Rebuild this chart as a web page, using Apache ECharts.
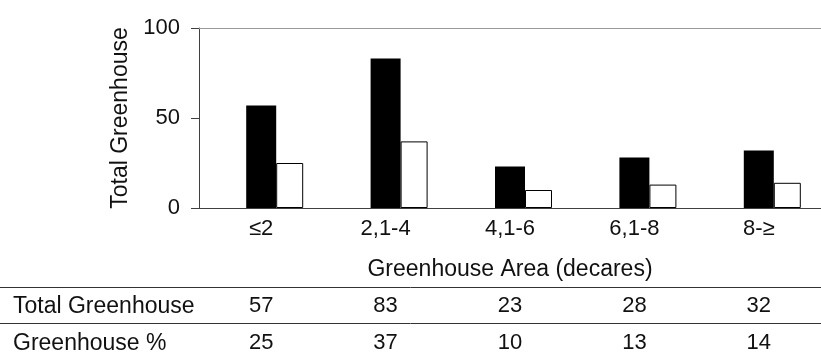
<!DOCTYPE html>
<html>
<head>
<meta charset="utf-8">
<script src="https://cdn.jsdelivr.net/npm/echarts@6/dist/echarts.min.js"></script>
<style>
html,body{margin:0;padding:0;background:#fff;}
#c{width:821px;height:354px;}
</style>
</head>
<body>
<div id="c"></div>
<script>
var categories = ['\u22642', '2,1-4', '4,1-6', '6,1-8', '8-\u2265'];
var totalGreenhouse = [57, 83, 23, 28, 32];
var greenhousePct = [25, 37, 10, 13, 14];
var yTicks = [0, 50, 100];
var rowNames = ['Total Greenhouse', 'Greenhouse %'];
var yAxisName = 'Total Greenhouse';
var xAxisName = 'Greenhouse Area (decares)';

var FONT = '"Liberation Sans", Arial, Helvetica, sans-serif';
var chart = echarts.init(document.getElementById('c'), null, {renderer: 'canvas'});

function tableAxis(values, margin) {
  return {
    type: 'category', gridIndex: 0, position: 'bottom',
    data: values.map(String),
    axisLine: {show: false}, axisTick: {show: false}, splitLine: {show: false},
    axisLabel: {interval: 0, margin: margin, color: '#111', fontSize: 22, fontFamily: FONT}
  };
}

chart.setOption({
  animation: false,
  backgroundColor: '#fff',
  grid: {left: 199, right: -10, top: 28, bottom: 144, containLabel: false},
  xAxis: [
    {
      type: 'category', data: categories, gridIndex: 0, position: 'bottom',
      axisLine: {show: true, lineStyle: {color: '#404040', width: 1}},
      axisTick: {show: false},
      axisLabel: {interval: 0, margin: 10, color: '#111', fontSize: 22, fontFamily: FONT},
      name: xAxisName, nameLocation: 'middle', nameGap: 50,
      nameTextStyle: {color: '#111', fontSize: 23, fontFamily: FONT}
    },
    {
      type: 'category', data: categories, gridIndex: 0, position: 'top',
      axisLine: {show: true, lineStyle: {color: '#9a9a9a', width: 1}},
      axisTick: {show: false}, axisLabel: {show: false}
    },
    tableAxis(totalGreenhouse, 87),
    tableAxis(greenhousePct, 124)
  ],
  yAxis: {
    type: 'value', min: yTicks[0], max: yTicks[yTicks.length - 1], interval: yTicks[1] - yTicks[0],
    name: yAxisName, nameLocation: 'middle', nameGap: 64, nameRotate: 90,
    nameTextStyle: {color: '#111', fontSize: 23, fontFamily: FONT},
    axisLine: {show: true, lineStyle: {color: '#404040', width: 1}},
    axisTick: {show: true, inside: false, length: 8, lineStyle: {color: '#404040'}},
    axisLabel: {margin: 19, color: '#111', fontSize: 22, fontFamily: FONT},
    splitLine: {show: false}
  },
  series: [
    {type: 'bar', name: 'spacer', data: categories.map(function(){return null;}), barWidth: 27, barGap: '0%', silent: true},
    {type: 'bar', name: rowNames[0], data: totalGreenhouse, barWidth: 30, barGap: '0%',
      itemStyle: {color: '#000'}},
    {type: 'bar', name: rowNames[1], data: greenhousePct, barWidth: 27, barGap: '0%',
      itemStyle: {color: '#fff', borderColor: '#000', borderWidth: 1}}
  ],
  graphic: [
    {type: 'line', shape: {x1: 0, y1: 287.5, x2: 821, y2: 287.5}, style: {stroke: '#333', lineWidth: 1}},
    {type: 'text', left: 13, top: 295, style: {text: rowNames[0], fill: '#111', font: '23px ' + FONT}},
    {type: 'line', shape: {x1: 0, y1: 323.5, x2: 821, y2: 323.5}, style: {stroke: '#333', lineWidth: 1}},
    {type: 'text', left: 13, top: 332, style: {text: rowNames[1], fill: '#111', font: '23px ' + FONT}}
  ]
});
</script>
</body>
</html>
